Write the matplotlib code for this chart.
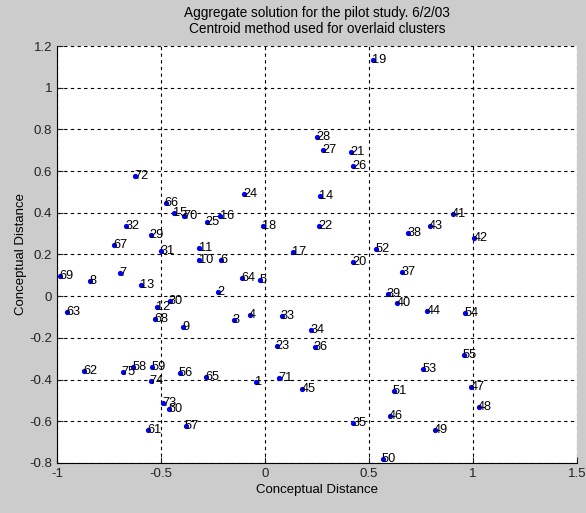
import matplotlib.pyplot as plt
import numpy as np

plt.rcParams['font.family'] = ['Liberation Sans', 'DejaVu Sans']

# point ids and coordinates
ids = [1, 2, 3, 4, 5, 6, 7, 8, 9, 10, 11, 12, 13, 14, 15, 16, 17, 18, 19, 20,
       21, 22, 23, 24, 25, 26, 27, 28, 29, 30, 31, 32, 33, 34, 35, 36, 37, 38, 39, 40,
       41, 42, 43, 44, 45, 46, 47, 48, 49, 50, 51, 52, 53, 54, 55, 56, 57, 58, 59, 60,
       61, 62, 63, 64, 65, 66, 67, 68, 69, 70, 71, 72, 73, 74, 75]
xs = [-0.042, -0.227, -0.150, -0.072, -0.022, -0.211, -0.695, -0.842, -0.395, -0.315,
      -0.315, -0.518, -0.595, 0.265, -0.438, -0.214, 0.136, -0.011, 0.520, 0.424,
      0.414, 0.262, 0.056, -0.100, -0.281, 0.424, 0.281, 0.251, -0.550, -0.458,
      -0.499, -0.666, 0.081, 0.222, 0.424, 0.238, 0.660, 0.688, 0.590, 0.636,
      0.903, 1.007, 0.791, 0.780, 0.179, 0.600, 0.991, 1.028, 0.816, 0.565,
      0.619, 0.536, 0.759, 0.964, 0.956, -0.411, -0.382, -0.634, -0.542, -0.461,
      -0.563, -0.871, -0.951, -0.111, -0.283, -0.478, -0.724, -0.530, -0.987, -0.390,
      0.066, -0.623, -0.491, -0.550, -0.685]
ys = [-0.410, 0.021, -0.113, -0.088, 0.080, 0.175, 0.109, 0.071, -0.150, 0.175,
      0.230, -0.053, 0.055, 0.480, 0.398, 0.383, 0.210, 0.335, 1.131, 0.162,
      0.690, 0.335, -0.238, 0.490, 0.354, 0.626, 0.699, 0.763, 0.295, -0.021,
      0.216, 0.338, -0.096, -0.161, -0.610, -0.245, 0.114, 0.302, 0.011, -0.034,
      0.396, 0.277, 0.338, -0.069, -0.446, -0.573, -0.434, -0.530, -0.642, -0.779,
      -0.456, 0.226, -0.347, -0.081, -0.280, -0.370, -0.621, -0.338, -0.341, -0.542,
      -0.640, -0.357, -0.078, 0.088, -0.386, 0.447, 0.245, -0.107, 0.098, 0.383,
      -0.392, 0.575, -0.514, -0.405, -0.362]

fig = plt.figure(figsize=(5.86, 5.13), dpi=100, facecolor='#cccccc')
ax = fig.add_axes([0.0973, 0.0975, 0.8873, 0.8128])
ax.set_facecolor('white')

ax.plot(xs, ys, '.', color='blue', markersize=5.5)
for i, x, y in zip(ids, xs, ys):
    ax.text(x - 0.004, y, str(i), fontsize=9.2, ha='left', va='center', color='black')

ax.set_xlim(-1, 1.5)
ax.set_ylim(-0.8, 1.2)
ax.set_xticks(np.arange(-1, 1.51, 0.5))
ax.set_yticks(np.arange(-0.8, 1.21, 0.2))
ax.set_xticklabels(['-1', '-0.5', '0', '0.5', '1', '1.5'])
ax.set_yticklabels(['-0.8', '-0.6', '-0.4', '-0.2', '0', '0.2', '0.4', '0.6', '0.8', '1', '1.2'])
ax.grid(True, color='black', linestyle=(0, (3, 3)), linewidth=0.8)
ax.tick_params(direction='in', labelsize=9.5, length=4, colors='#222222')
for s in ['top', 'right']:
    ax.spines[s].set_visible(False)

ax.set_xlabel('Conceptual Distance', fontsize=9.5, labelpad=3)
ax.set_ylabel('Conceptual Distance', fontsize=9.5, labelpad=2)
ax.set_title('Aggregate solution for the pilot study. 6/2/03\nCentroid method used for overlaid clusters',
             fontsize=9.8, linespacing=1.15, pad=9.5)

fig.savefig('out.png', dpi=100, facecolor=fig.get_facecolor())
